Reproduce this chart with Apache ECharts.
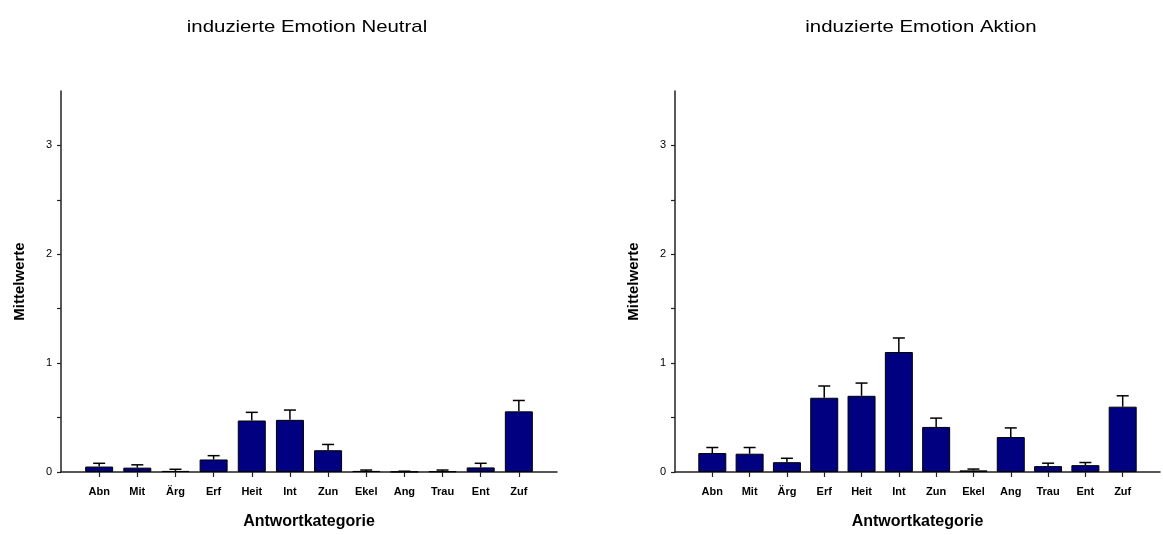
<!DOCTYPE html>
<html><head><meta charset="utf-8">
<script src="https://cdn.jsdelivr.net/npm/echarts@6/dist/echarts.min.js"></script>
<style>html,body{margin:0;padding:0;background:#fff}#c{width:1163px;height:535px}</style>
</head><body><div id="c"></div>
<script>
var categories = ['Abn','Mit','Ärg','Erf','Heit','Int','Zun','Ekel','Ang','Trau','Ent','Zuf'];
var neutralMeans = [0.05,0.04,0.01,0.115,0.473,0.479,0.20,0.01,0.003,0.006,0.042,0.557];
var neutralErr   = [0.03,0.026,0.015,0.035,0.075,0.09,0.053,0.008,0.004,0.012,0.038,0.10];
var aktionMeans  = [0.174,0.168,0.09,0.682,0.70,1.102,0.414,0.015,0.321,0.054,0.063,0.60];
var aktionErr    = [0.051,0.057,0.036,0.108,0.117,0.129,0.081,0.012,0.084,0.027,0.024,0.10];
var yTicks = [0,1,2,3];
var titles = ['induzierte Emotion Neutral','induzierte Emotion Aktion'];

var FONT = '"Liberation Sans", Arial, sans-serif';
var padded = [''].concat(categories, ['']);
var gridLefts = [61, 675];
var plotW = 496;

function barData(m){ return [null].concat(m, [null]); }
function errData(m, e){ return m.map(function(v,i){ return [i+1, v, e[i]]; }); }

var grids = [], xAxes = [], yAxes = [], series = [];
[[neutralMeans, neutralErr],[aktionMeans, aktionErr]].forEach(function(d, k){
  grids.push({left: gridLefts[k], top: 91, width: plotW, bottom: 58, containLabel:false});
  xAxes.push({
    type:'category', gridIndex:k, data: padded, boundaryGap:false,
    axisLine:{show:true, lineStyle:{color:'#222', width:1.5}},
    axisTick:{show:true, inside:false, length:5, lineStyle:{color:'#222', width:1.2},
      interval:function(i, v){ return v !== ''; }},
    axisLabel:{color:'#000', fontFamily:FONT, fontSize:11, fontWeight:'bold', margin:14, interval:0},
    splitLine:{show:false},
    name:'Antwortkategorie', nameLocation:'middle', nameGap:42,
    nameTextStyle:{color:'#000', fontFamily:FONT, fontSize:16, fontWeight:'bold'}
  });
  yAxes.push({
    type:'value', gridIndex:k, min:0, max:3.5, interval:0.5,
    axisLine:{show:true, lineStyle:{color:'#222', width:1.5}},
    axisTick:{show:true, length:4, lineStyle:{color:'#222', width:1.2}},
    axisLabel:{color:'#000', fontFamily:FONT, fontSize:11, margin:9,
      showMaxLabel:false,
      formatter:function(v){ return yTicks.indexOf(v) >= 0 ? String(v) : ''; }},
    splitLine:{show:false},
    name:'Mittelwerte', nameLocation:'middle', nameGap:34,
    nameTextStyle:{color:'#000', fontFamily:FONT, fontSize:15, fontWeight:'bold'}
  });
  series.push({
    type:'bar', xAxisIndex:k, yAxisIndex:k, data: barData(d[0]), barWidth:28,
    itemStyle:{color:'#000080', borderColor:'#000', borderWidth:1},
    silent:true, z:2
  });
  series.push({
    type:'custom', xAxisIndex:k, yAxisIndex:k, data: errData(d[0], d[1]), z:3, silent:true,
    renderItem:function(params, api){
      var x = api.value(0), v = api.value(1), e = api.value(2);
      var p0 = api.coord([x, v]), p1 = api.coord([x, v + e]);
      var hw = 6;
      return {type:'group', children:[
        {type:'line', shape:{x1:p0[0], y1:p0[1], x2:p1[0], y2:p1[1]}, style:{stroke:'#000', lineWidth:1.5}},
        {type:'line', shape:{x1:p1[0]-hw, y1:p1[1], x2:p1[0]+hw, y2:p1[1]}, style:{stroke:'#000', lineWidth:1.5}}
      ]};
    }
  });
});

var chart = echarts.init(document.getElementById('c'), null, {renderer:'canvas'});
chart.setOption({
  animation:false,
  grid:grids, xAxis:xAxes, yAxis:yAxes, series:series,
  graphic: titles.map(function(t,k){
    return {type:'text', x: gridLefts[k] + plotW/2 - 2, y: 27, scaleX:1.2,
      style:{text:t, font:'17px ' + FONT, fill:'#000', textAlign:'center', textVerticalAlign:'middle'}};
  })
});
</script></body></html>
